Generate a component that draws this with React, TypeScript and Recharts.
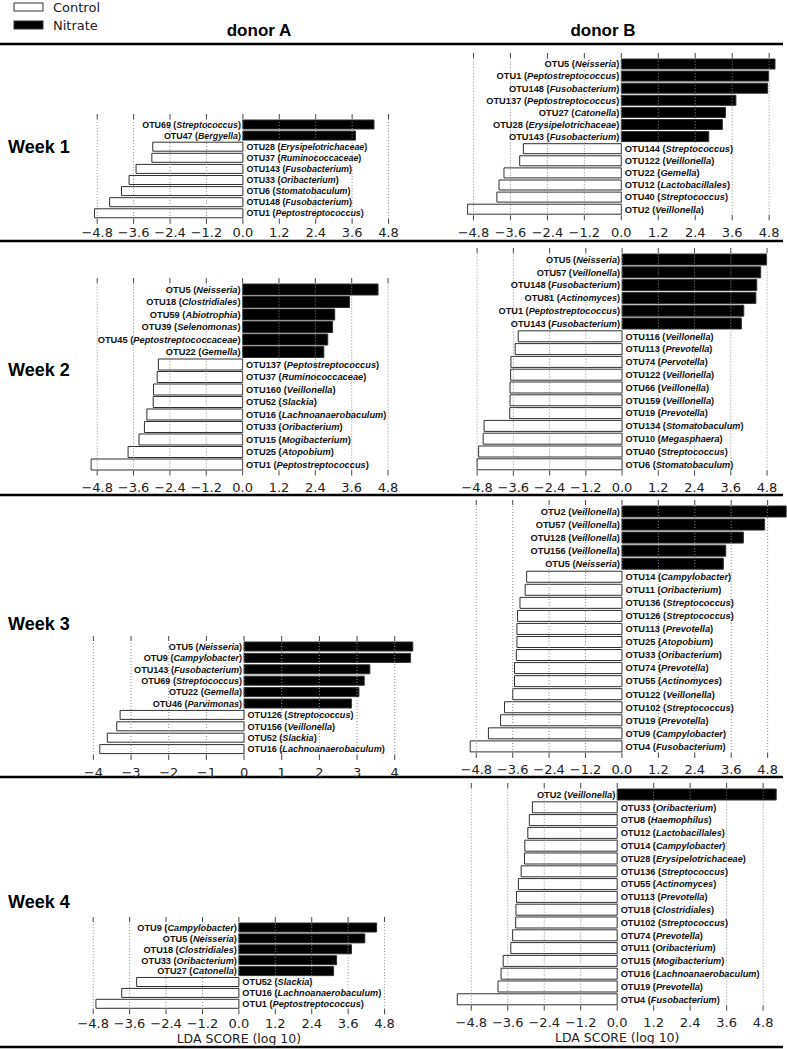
import { Bar, BarChart, Cell, LabelList, ReferenceLine, XAxis, YAxis } from "recharts";

const TICKS_LDA = [-4.8, -3.6, -2.4, -1.2, 0, 1.2, 2.4, 3.6, 4.8];
const TICKS_INT = [-4, -3, -2, -1, 0, 1, 2, 3, 4];
const WEEKS = ["Week 1", "Week 2", "Week 3", "Week 4"];
const DONORS = ["donor A", "donor B"];
const GROUPS = ["Control", "Nitrate"];
const X_TITLE = "LDA SCORE (log 10)";

// donor A, week 1
const A1_OTU = [
  "OTU69 (Streptococcus)", "OTU47 (Bergyella)", "OTU28 (Erysipelotrichaceae)", "OTU37 (Ruminococcaceae)",
  "OTU143 (Fusobacterium)", "OTU33 (Oribacterium)", "OTU6 (Stomatobaculum)", "OTU148 (Fusobacterium)",
  "OTU1 (Peptostreptococcus)",
];
const A1_LDA = [4.32, 3.71, -2.97, -3.0, -3.52, -3.75, -4.0, -4.39, -4.89];

// donor B, week 1
const B1_OTU = [
  "OTU5 (Neisseria)", "OTU1 (Peptostreptococcus)", "OTU148 (Fusobacterium)", "OTU137 (Peptostreptococcus)",
  "OTU27 (Catonella)", "OTU28 (Erysipelotrichaceae)", "OTU143 (Fusobacterium)", "OTU144 (Streptococcus)",
  "OTU122 (Veillonella)", "OTU22 (Gemella)", "OTU12 (Lactobacillales)", "OTU40 (Streptococcus)",
  "OTU2 (Veillonella)",
];
const B1_LDA = [4.99, 4.78, 4.75, 3.72, 3.38, 3.28, 2.84, -3.18, -3.3, -3.81, -3.97, -4.04, -4.99];

// donor A, week 2
const A2_OTU = [
  "OTU5 (Neisseria)", "OTU18 (Clostridiales)", "OTU59 (Abiotrophia)", "OTU39 (Selenomonas)",
  "OTU45 (Peptostreptococcaceae)", "OTU22 (Gemella)", "OTU137 (Peptostreptococcus)", "OTU37 (Ruminococcaceae)",
  "OTU160 (Veillonella)", "OTU52 (Slackia)", "OTU16 (Lachnoanaerobaculum)", "OTU33 (Oribacterium)",
  "OTU15 (Mogibacterium)", "OTU25 (Atopobium)", "OTU1 (Peptostreptococcus)",
];
const A2_LDA = [4.47, 3.53, 3.04, 2.97, 2.81, 2.68, -2.78, -2.82, -2.94, -2.95, -3.16, -3.24, -3.42, -3.78, -5.0];

// donor B, week 2
const B2_OTU = [
  "OTU5 (Neisseria)", "OTU57 (Veillonella)", "OTU148 (Fusobacterium)", "OTU81 (Actinomyces)",
  "OTU1 (Peptostreptococcus)", "OTU143 (Fusobacterium)", "OTU116 (Veillonella)", "OTU113 (Prevotella)",
  "OTU74 (Pervotella)", "OTU122 (Veillonella)", "OTU66 (Veillonella)", "OTU159 (Veillonella)",
  "OTU19 (Prevotella)", "OTU134 (Stomatobaculum)", "OTU10 (Megasphaera)", "OTU40 (Streptococcus)",
  "OTU6 (Stomatobaculum)",
];
const B2_LDA = [4.78, 4.59, 4.46, 4.43, 4.03, 3.95, -3.44, -3.54, -3.68, -3.69, -3.71, -3.71, -3.72, -4.57, -4.6, -4.75, -4.8];

// donor A, week 3
const A3_OTU = [
  "OTU5 (Neisseria)", "OTU9 (Campylobacter)", "OTU143 (Fusobacterium)", "OTU69 (Streptococcus)",
  "OTU22 (Gemella)", "OTU46 (Parvimonas)", "OTU126 (Streptococcus)", "OTU156 (Veillonella)",
  "OTU52 (Slackia)", "OTU16 (Lachnoanaerobaculum)",
];
const A3_LDA = [4.48, 4.42, 3.34, 3.19, 3.05, 2.85, -3.29, -3.38, -3.63, -3.83];

// donor B, week 3
const B3_OTU = [
  "OTU2 (Veillonella)", "OTU57 (Veillonella)", "OTU128 (Veillonella)", "OTU156 (Veillonella)",
  "OTU5 (Neisseria)", "OTU14 (Campylobacter)", "OTU11 (Oribacterium)", "OTU136 (Streptococcus)",
  "OTU126 (Streptococcus)", "OTU113 (Prevotella)", "OTU25 (Atopobium)", "OTU33 (Oribacterium)",
  "OTU74 (Prevotella)", "OTU55 (Actinomyces)", "OTU122 (Veillonella)", "OTU102 (Streptococcus)",
  "OTU19 (Prevotella)", "OTU9 (Campylobacter)", "OTU4 (Fusobacterium)",
];
const B3_LDA = [
  5.41, 4.7, 4.0, 3.42, 3.34, -3.14, -3.19, -3.36, -3.44, -3.46, -3.46, -3.48, -3.54, -3.54, -3.6, -3.87, -4.0, -4.4, -5.0,
];

// donor A, week 4
const A4_OTU = [
  "OTU9 (Campylobacter)", "OTU5 (Neisseria)", "OTU18 (Clostridiales)", "OTU33 (Oribacterium)",
  "OTU27 (Catonella)", "OTU52 (Slackia)", "OTU16 (Lachnoanaerobaculum)", "OTU1 (Peptostreptococcus)",
];
const A4_LDA = [4.54, 4.15, 3.71, 3.22, 3.12, -3.37, -3.86, -4.71];

// donor B, week 4
const B4_OTU = [
  "OTU2 (Veillonella)", "OTU33 (Oribacterium)", "OTU8 (Haemophilus)", "OTU12 (Lactobacillales)",
  "OTU14 (Campylobacter)", "OTU28 (Erysipelotrichaceae)", "OTU136 (Streptococcus)", "OTU55 (Actinomyces)",
  "OTU113 (Prevotella)", "OTU18 (Clostridiales)", "OTU102 (Streptococcus)", "OTU74 (Prevotella)",
  "OTU11 (Oribacterium)", "OTU15 (Mogibacterium)", "OTU16 (Lachnoanaerobaculum)", "OTU19 (Prevotella)",
  "OTU4 (Fusobacterium)",
];
const B4_LDA = [5.23, -2.79, -2.89, -2.94, -3.04, -3.05, -3.16, -3.25, -3.31, -3.33, -3.34, -3.44, -3.5, -3.75, -3.82, -3.92, -5.26];

const SANS = "'Liberation Sans', Arial, Helvetica, sans-serif";
const MPL = "'DejaVu Sans', sans-serif";
const TOP_AXIS = 6;

const fmtTick = (decimals: number) => (v: number) => (v < 0 ? "\u2212" : "") + Math.abs(v).toFixed(decimals);

type PanelProps = {
  otus: string[];
  lda: number[];
  ticks: number[];
  decimals: number;
  zeroX: number;
  plotTop: number;
  rowH: number;
  pxPerUnit: number;
  span: number;
  fontSize: number;
  tickMargin: number;
  bottomH?: number;
  xTitle?: boolean;
};

function Panel({ otus, lda, ticks, decimals, zeroX, plotTop, rowH, pxPerUnit, span, fontSize, tickMargin, bottomH = 28, xTitle }: PanelProps) {
  const data = otus.map((otu, i) => ({ key: String(i), otu, lda: lda[i] }));
  const plotW = 2 * span * pxPerUnit;
  const plotH = otus.length * rowH;

  const renderLabel = (props: any) => {
    const vb = props.viewBox && props.viewBox.width !== undefined ? props.viewBox : props;
    const i = Number(props.value);
    const v = lda[i];
    const x0 = v >= 0 ? Math.min(vb.x, vb.x + vb.width) : Math.max(vb.x, vb.x + vb.width);
    const m = /^(\S+) \((.+)\)$/.exec(otus[i]);
    return (
      <text
        key={`lbl-${i}`}
        x={v >= 0 ? x0 - 2 : x0 + 3.5}
        y={vb.y + vb.height / 2}
        dy="0.36em"
        textAnchor={v >= 0 ? "end" : "start"}
        fontFamily={SANS}
        fontSize={fontSize}
        fontWeight="bold"
        fill="#111"
      >
        {m ? m[1] : otus[i]} (<tspan fontStyle="italic">{m ? m[2] : ""}</tspan>)
      </text>
    );
  };

  return (
    <div style={{ position: "absolute", left: zeroX - plotW / 2, top: plotTop - TOP_AXIS }}>
      <BarChart
        layout="vertical"
        width={plotW}
        height={TOP_AXIS + plotH + bottomH}
        data={data}
        margin={{ top: 0, right: 0, bottom: 0, left: 0 }}
        barCategoryGap={1}
      >
        <XAxis
          xAxisId="top"
          orientation="top"
          type="number"
          domain={[-span, span]}
          ticks={ticks}
          interval={0}
          allowDataOverflow
          height={TOP_AXIS}
          axisLine={false}
          tickLine={{ stroke: "#444" }}
          tickSize={5}
          tickFormatter={() => ""}
        />
        <XAxis
          type="number"
          domain={[-span, span]}
          ticks={ticks}
          interval={0}
          allowDataOverflow
          height={bottomH}
          axisLine={false}
          tickLine={{ stroke: "#444" }}
          tickSize={5}
          tickMargin={tickMargin}
          tickFormatter={fmtTick(decimals)}
          tick={{ fontSize: 13, fontFamily: MPL, fill: "#222" }}
          label={xTitle ? { value: X_TITLE, position: "insideBottom", offset: 2, fontSize: 12.5, fontFamily: MPL, fill: "#222" } : undefined}
        />
        <YAxis type="category" dataKey="key" hide width={0} />
        <Bar dataKey="lda" isAnimationActive={false} stroke="#2e2e2e" strokeWidth={1}>
          {data.map((d) => (
            <Cell key={d.key} fill={d.lda > 0 ? "#000" : "#fff"} />
          ))}
          <LabelList dataKey="key" content={renderLabel} />
        </Bar>
        {ticks.map((t) => (
          <ReferenceLine key={t} x={t} stroke="#8a8a8a" strokeWidth={1} strokeDasharray="1 2" ifOverflow="visible" />
        ))}
      </BarChart>
    </div>
  );
}

export default function App() {
  const rules = [44, 241, 495, 777, 1047];
  const weekY = [152.5, 375.5, 629.5, 907.5];
  return (
    <div style={{ position: "absolute", left: 0, top: 0, width: 787, height: 1049, background: "#fff", overflow: "hidden" }}>
      <svg width={787} height={1049} style={{ position: "absolute", left: 0, top: 0 }}>
        {/* legend */}
        <rect x={14} y={3} width={29} height={8} fill="#fff" stroke="#333" strokeWidth={1} />
        <text x={53} y={11.5} fontFamily={MPL} fontSize={13} fill="#222">{GROUPS[0]}</text>
        <rect x={14} y={21} width={29} height={8} fill="#000" stroke="#333" strokeWidth={1} />
        <text x={53} y={29.5} fontFamily={MPL} fontSize={13} fill="#222">{GROUPS[1]}</text>
        {/* column titles */}
        <text x={259} y={36} textAnchor="middle" fontFamily={SANS} fontWeight="bold" fontSize={17} fill="#000">{DONORS[0]}</text>
        <text x={603} y={36} textAnchor="middle" fontFamily={SANS} fontWeight="bold" fontSize={17} fill="#000">{DONORS[1]}</text>
        {rules.map((y) => (
          <line key={y} x1={0} x2={783} y1={y} y2={y} stroke="#000" strokeWidth={2.5} />
        ))}
        {WEEKS.map((w, i) => (
          <text key={w} x={8} y={weekY[i]} fontFamily={SANS} fontWeight="bold" fontSize={18} fill="#000">{w}</text>
        ))}
      </svg>

      <Panel otus={A1_OTU} lda={A1_LDA} ticks={TICKS_LDA} decimals={1} zeroX={243} plotTop={119} rowH={11.1} pxPerUnit={30.35} span={5.4} fontSize={8.9} tickMargin={4} />
      <Panel otus={B1_OTU} lda={B1_LDA} ticks={TICKS_LDA} decimals={1} zeroX={621} plotTop={58} rowH={12.1} pxPerUnit={30.8} span={5.4} fontSize={9.3} tickMargin={7} />
      <Panel otus={A2_OTU} lda={A2_LDA} ticks={TICKS_LDA} decimals={1} zeroX={243} plotTop={283} rowH={12.5} pxPerUnit={30.3} span={5.4} fontSize={9.3} tickMargin={7} />
      <Panel otus={B2_OTU} lda={B2_LDA} ticks={TICKS_LDA} decimals={1} zeroX={621.7} plotTop={253} rowH={12.8} pxPerUnit={30.2} span={5.4} fontSize={9.2} tickMargin={7} />
      <Panel otus={A3_OTU} lda={A3_LDA} ticks={TICKS_INT} decimals={0} zeroX={244.3} plotTop={641} rowH={11.4} pxPerUnit={37.67} span={4.7} fontSize={9.1} tickMargin={8} />
      <Panel otus={B3_OTU} lda={B3_LDA} ticks={TICKS_LDA} decimals={1} zeroX={621.7} plotTop={505} rowH={13.05} pxPerUnit={30.35} span={5.6} fontSize={9.3} tickMargin={7} />
      <Panel otus={A4_OTU} lda={A4_LDA} ticks={TICKS_LDA} decimals={1} zeroX={239.3} plotTop={922} rowH={10.9} pxPerUnit={30.35} span={5.4} fontSize={9.2} tickMargin={5} bottomH={36} xTitle />
      <Panel otus={B4_OTU} lda={B4_LDA} ticks={TICKS_LDA} decimals={1} zeroX={616.7} plotTop={788} rowH={12.8} pxPerUnit={30.4} span={5.5} fontSize={9.2} tickMargin={7} bottomH={38} xTitle />
    </div>
  );
}
